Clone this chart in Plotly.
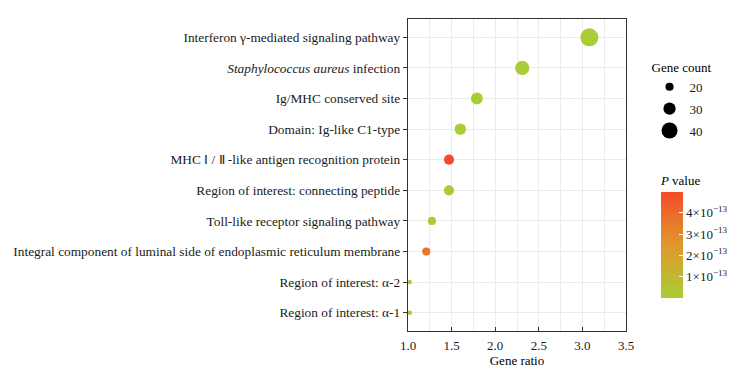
import plotly.graph_objects as go

# ---- data (top to bottom as shown) ----
terms = [
    "Interferon γ-mediated signaling pathway",
    "<i>Staphylococcus aureus</i> infection",
    "Ig/MHC conserved site",
    "Domain: Ig-like C1-type",
    "MHC Ⅰ / Ⅱ -like antigen recognition protein",
    "Region of interest: connecting peptide",
    "Toll-like receptor signaling pathway",
    "Integral component of luminal side of endoplasmic reticulum membrane",
    "Region of interest: α-2",
    "Region of interest: α-1",
]
gene_ratio = [3.08, 2.31, 1.79, 1.60, 1.47, 1.47, 1.275, 1.21, 1.02, 1.02]
gene_count = [44, 35, 29, 28, 25, 25, 20, 20, 11, 11]
p_value = [1e-20, 2e-19, 5e-18, 3e-17, 4.98e-13, 2e-17, 8e-16, 3.6e-13, 1e-15, 1e-15]

size_breaks = [20, 30, 40]
cbar_ticks = [1e-13, 2e-13, 3e-13, 4e-13]
cbar_labels = ["1×10<sup>−13</sup>", "2×10<sup>−13</sup>", "3×10<sup>−13</sup>", "4×10<sup>−13</sup>"]
x_ticks = [1.0, 1.5, 2.0, 2.5, 3.0, 3.5]

SIZEREF = 2.45
FONT = "Liberation Serif, Times New Roman, serif"
FS = 13.35
colorscale = [[0.0, "#A9CD34"], [0.5, "#E0982E"], [1.0, "#F44A28"]]

fig = go.Figure()
fig.add_trace(go.Scatter(
    x=gene_ratio, y=terms, mode="markers", showlegend=False,
    marker=dict(size=gene_count, sizemode="diameter", sizeref=SIZEREF,
                color=p_value, colorscale=colorscale, line=dict(width=0),
                opacity=1,
                colorbar=dict(
                    title=dict(text="<i>P</i> value", side="top",
                               font=dict(family=FONT, size=13, color="#000")),
                    thickness=22, thicknessmode="pixels",
                    len=126, lenmode="pixels",
                    x=1.16, xanchor="left", xpad=0,
                    y=0.106, yanchor="bottom", ypad=0,
                    tickvals=cbar_ticks, ticktext=cbar_labels,
                    ticks="inside", ticklen=4, tickcolor="white",
                    outlinewidth=0,
                    tickfont=dict(family=FONT, size=13, color="#1a1a1a"),
                )),
))

for i, s in enumerate(size_breaks):
    fig.add_trace(go.Scatter(
        x=[None], y=[None], mode="markers", name=str(s),
        legendgroup=f"g{i}",
        marker=dict(size=s / SIZEREF, color="black"),
    ))

fig.update_layout(
    width=749, height=372,
    margin=dict(l=408, r=123, t=19, b=41, autoexpand=False),
    paper_bgcolor="white", plot_bgcolor="white",
    font=dict(family=FONT, size=FS, color="#1a1a1a"),
    showlegend=True,
    legend=dict(
        title=dict(text="Gene count", font=dict(family=FONT, size=13, color="#000")),
        x=1.108, xanchor="left", y=0.885, yanchor="top",
        font=dict(family=FONT, size=13, color="#1a1a1a"),
        itemsizing="trace", itemwidth=30, tracegroupgap=2, traceorder="grouped",
        bgcolor="rgba(0,0,0,0)",
    ),
    xaxis=dict(
        range=[1.0, 3.5], tickvals=x_ticks, ticktext=[f"{v:.1f}" for v in x_ticks],
        showline=True, mirror=True, linecolor="#333333", linewidth=1.3,
        ticks="inside", ticklen=4, tickcolor="#333333",
        showgrid=True, gridcolor="#EBEBEB", gridwidth=1,
        minor=dict(dtick=0.25, tick0=1.0, showgrid=True, gridcolor="#EBEBEB", gridwidth=0.8),
        zeroline=False, ticklabelstandoff=2,
        title=dict(text="Gene ratio", standoff=1, font=dict(family=FONT, size=13, color="#000")),
        tickfont=dict(family=FONT, size=13, color="#1a1a1a"),
    ),
    yaxis=dict(
        type="category", categoryorder="array", categoryarray=terms[::-1],
        range=[-0.6, len(terms) - 0.4],
        showline=True, mirror=True, linecolor="#333333", linewidth=1.3,
        ticks="outside", ticklen=4, tickcolor="#333333",
        showgrid=True, gridcolor="#EBEBEB", gridwidth=1,
        zeroline=False,
        tickfont=dict(family=FONT, size=FS, color="#1a1a1a"),
    ),
)

fig.write_html("out.html", config={"displayModeBar": False},
               post_script="document.body.style.margin='0';")
